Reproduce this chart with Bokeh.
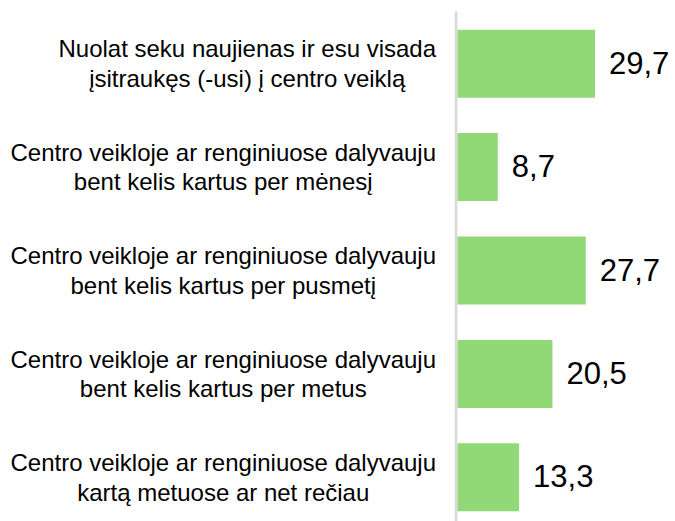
from bokeh.plotting import figure
from bokeh.models import ColumnDataSource
from bokeh.core.properties import value
from bokeh.embed import file_html
from bokeh.resources import INLINE

# ---- data ----
categories = [
    "Nuolat seku naujienas ir esu visada\nįsitraukęs (-usi) į centro veiklą",
    "Centro veikloje ar renginiuose dalyvauju\nbent kelis kartus per mėnesį",
    "Centro veikloje ar renginiuose dalyvauju\nbent kelis kartus per pusmetį",
    "Centro veikloje ar renginiuose dalyvauju\nbent kelis kartus per metus",
    "Centro veikloje ar renginiuose dalyvauju\nkartą metuose ar net rečiau",
]
values = [29.7, 8.7, 27.7, 20.5, 13.3]
value_labels = ["29,7", "8,7", "27,7", "20,5", "13,3"]

# ---- layout helpers ----
# Arial / Liberation Sans advance widths (per 1000 em)
ADV = {" ": 278, "(": 333, ")": 333, "-": 333, "C": 722, "N": 722,
       "a": 556, "b": 556, "c": 500, "d": 556, "e": 556, "g": 556, "i": 222,
       "j": 222, "k": 500, "l": 222, "m": 833, "n": 556, "o": 556, "p": 556,
       "r": 333, "s": 500, "t": 278, "u": 556, "v": 500, "y": 500, "z": 500,
       "ą": 556, "ę": 556, "ė": 556, "į": 222, "č": 500}


def text_width(s, size):
    return sum(ADV.get(ch, 556) for ch in s) / 1000.0 * size


FONT = "Liberation Sans"
LABEL_SIZE = 24
VALUE_SIZE = 31
W, H = 675, 521
PX_PER_UNIT = 4.63
ZERO_PX = 457
ROW_PX = 103.4
TOP_CENTER_PX = 63.2
BAR_PX = 68
LABEL_GAP = 21.5

n = len(categories)
pos = [n - 1 - i for i in range(n)]
x_start = -ZERO_PX / PX_PER_UNIT
x_end = (W - ZERO_PX) / PX_PER_UNIT
y_end = (n - 1) + TOP_CENTER_PX / ROW_PX
y_start = y_end - H / ROW_PX

label_offsets = [-LABEL_GAP - max(text_width(l, LABEL_SIZE) for l in c.split("\n")) / 2
                 for c in categories]

src = ColumnDataSource(dict(pos=pos, val=values, vlab=value_labels,
                            cat=categories, lx=label_offsets,
                            zero=[0] * n))

p = figure(width=W, height=H, x_range=(x_start, x_end), y_range=(y_start, y_end),
           output_backend="svg", toolbar_location=None,
           x_axis_type=None, y_axis_type=None, min_border=0,
           outline_line_color=None, background_fill_color="white",
           border_fill_color="white")
p.grid.visible = False

axis_x = -1.4 / PX_PER_UNIT
p.segment(x0=[axis_x], x1=[axis_x], y0=[y_end - 11 / ROW_PX], y1=[y_start],
          line_color="#d9d9d9", line_width=2.6)

p.hbar(y="pos", left=0, right="val", height=BAR_PX / ROW_PX, source=src,
       fill_color="#91D877", line_color=None)

p.text(x="val", y="pos", text="vlab", source=src, x_offset=14, y_offset=-1,
       text_align="left", text_baseline="middle",
       text_font=value(FONT), text_font_size=f"{VALUE_SIZE}px",
       text_color="#000000")

p.text(x="zero", y="pos", text="cat", source=src, x_offset="lx",
       text_align="center", text_baseline="middle",
       text_font=value(FONT), text_font_size=f"{LABEL_SIZE}px",
       text_line_height=1.1, text_color="#000000")

open("out.html", "w").write(file_html(p, INLINE))
